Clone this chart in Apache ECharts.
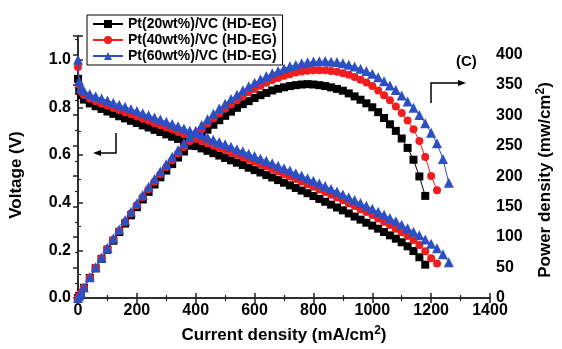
<!DOCTYPE html>
<html><head><meta charset="utf-8">
<script src="https://cdn.jsdelivr.net/npm/echarts@6/dist/echarts.min.js"></script>
<style>html,body{margin:0;padding:0;background:#fff}#c{width:562px;height:349px}</style>
</head><body><div id="c"></div><script>
// Current density (mA/cm2) sample points
const currents = [0,4,10,20,40,60,80,100,120,140,160,180,200,220,240,260,280,300,320,340,360,380,400,420,440,460,480,500,520,540,560,580,600,620,640,660,680,700,720,740,760,780,800,820,840,860,880,900,920,940,960,980,1000,1020,1040,1060,1080,1100,1120,1140,1160,1180,1200,1220,1240,1260];

const seriesNames = ['Pt(20wt%)/VC (HD-EG)','Pt(40wt%)/VC (HD-EG)','Pt(60wt%)/VC (HD-EG)'];

// Voltage (V)
const voltage20 = [0.92,0.87,0.852,0.833,0.817,0.805,0.794,0.783,0.773,0.763,0.754,0.744,0.735,0.725,0.716,0.706,0.697,0.687,0.677,0.668,0.658,0.648,0.638,0.628,0.618,0.608,0.598,0.588,0.578,0.568,0.558,0.547,0.537,0.527,0.516,0.506,0.495,0.484,0.473,0.462,0.451,0.440,0.428,0.416,0.404,0.392,0.380,0.368,0.355,0.342,0.329,0.316,0.304,0.291,0.277,0.263,0.249,0.234,0.217,0.197,0.171,0.140];
const voltage40 = [0.97,0.895,0.868,0.852,0.837,0.826,0.816,0.807,0.798,0.789,0.780,0.771,0.762,0.753,0.744,0.734,0.725,0.716,0.707,0.697,0.688,0.678,0.669,0.659,0.650,0.640,0.631,0.621,0.611,0.601,0.592,0.582,0.572,0.562,0.552,0.542,0.531,0.521,0.510,0.500,0.489,0.478,0.467,0.456,0.445,0.433,0.422,0.410,0.398,0.386,0.373,0.361,0.348,0.334,0.320,0.306,0.291,0.276,0.260,0.243,0.222,0.196,0.167,0.145];
const voltage60 = [1.0,0.91,0.882,0.870,0.857,0.847,0.838,0.829,0.820,0.811,0.803,0.794,0.785,0.776,0.767,0.758,0.749,0.740,0.731,0.721,0.712,0.702,0.693,0.683,0.674,0.664,0.655,0.645,0.635,0.625,0.616,0.606,0.596,0.586,0.576,0.566,0.555,0.545,0.535,0.524,0.514,0.503,0.492,0.481,0.470,0.458,0.447,0.435,0.423,0.411,0.399,0.387,0.375,0.362,0.349,0.336,0.322,0.308,0.293,0.278,0.263,0.246,0.228,0.209,0.184,0.150];

// Power density (mW/cm2)
const power20 = [0,3.5,8.5,16.8,32.9,48.7,64.2,79.2,94.0,108.2,122.2,135.7,149.0,161.7,174.2,186.2,198.0,209.1,219.8,230.5,240.5,250.0,259.2,268.0,276.3,284.3,291.8,299.0,305.8,312.1,318.1,323.1,328.2,332.9,336.6,340.6,343.4,345.8,347.8,349.3,350.4,351.0,350.4,349.3,347.8,345.7,343.2,340.2,335.8,330.9,325.4,319.5,313.0,305.0,295.4,285.1,274.3,261.8,246.4,226.9,199.5,167.6];
const power40 = [0,3.6,8.7,17.0,33.5,49.6,65.3,80.7,95.8,110.5,124.8,138.8,152.4,165.7,178.6,190.8,203.0,214.8,226.2,237.0,247.7,257.6,267.6,276.8,286.0,294.4,302.9,310.5,317.7,324.5,331.5,337.6,343.2,348.4,353.3,357.7,361.1,364.7,367.2,370.0,371.6,372.8,373.6,373.9,373.8,372.4,371.4,369.0,366.2,362.8,358.1,353.8,348.0,340.7,332.8,324.4,314.3,303.6,291.2,277.0,257.5,231.3,200.4,176.9];
const power60 = [0,3.6,8.8,17.3,34.0,50.4,66.5,82.2,97.6,112.6,127.4,141.7,155.6,169.2,182.4,195.3,207.8,219.9,231.7,242.8,253.8,264.1,274.4,283.9,293.5,302.2,311.0,319.0,326.6,333.7,341.0,347.4,353.4,359.0,364.2,368.9,372.6,376.6,380.2,382.6,385.3,386.9,388.0,388.7,388.9,387.9,387.2,385.2,382.7,379.8,376.3,372.4,368.0,362.1,355.7,348.7,341.3,332.2,322.6,312.4,300.4,286.7,271.2,253.8,228.2,189.0];

const xTicks = [0,200,400,600,800,1000,1200,1400];
const vTicks = [0.0,0.2,0.4,0.6,0.8,1.0];
const pTicks = [0,50,100,150,200,250,300,350,400];

const colors = ['#000000','#f01e1e','#2c4fc4'];
const symbols = ['rect','circle','triangle'];
const symSizes = [8,8,10];

const pair = (vals) => vals.map((v,i) => [currents[i], v]);
const vData = [voltage20, voltage40, voltage60];
const pData = [power20, power40, power60];

const FONT = 'Arial, "Liberation Sans", sans-serif';
const axisLineStyle = {color:'#222', width:1.5};
const labelStyle = {color:'#000', fontWeight:'bold', fontSize:16, fontFamily:FONT};
const titleStyle = {color:'#000', fontWeight:'bold', fontSize:17, fontFamily:FONT};
const supRich = {sup:{fontSize:12, fontWeight:'bold', fontFamily:FONT, color:'#000', verticalAlign:'top', padding:[0,0,9,0]}};

const series = [];
for (let k=0;k<3;k++){
  series.push({name:seriesNames[k], type:'line', xAxisIndex:0, yAxisIndex:0, data:pair(vData[k]),
    symbol:symbols[k], symbolSize:symSizes[k], showSymbol:true,
    itemStyle:{color:colors[k]}, lineStyle:{color:colors[k], width:1}, z:2+k});
  series.push({name:seriesNames[k], type:'line', xAxisIndex:0, yAxisIndex:1, data:pair(pData[k]),
    symbol:symbols[k], symbolSize:symSizes[k], showSymbol:true,
    itemStyle:{color:colors[k]}, lineStyle:{color:colors[k], width:1}, z:2+k});
}

const chart = echarts.init(document.getElementById('c'));
chart.setOption({
  animation:false,
  backgroundColor:'#fff',
  grid:{left:76, right:67, top:36, bottom:48},
  legend:{
    data:seriesNames,
    orient:'vertical', left:87, top:15, padding:[2,6,2,5], itemGap:2,
    itemWidth:30, itemHeight:10,
    backgroundColor:'#fff', borderColor:'#000', borderWidth:1, borderRadius:0,
    textStyle:{fontSize:14, fontWeight:'bold', fontFamily:FONT, color:'#000'},
    z:10
  },
  xAxis:[{
    type:'value', min:0, max:1400, interval:200,
    name:'Current density (mA/cm{sup|2})', nameLocation:'middle', nameGap:27,
    nameTextStyle:Object.assign({}, titleStyle, {rich:supRich}),
    axisLine:{lineStyle:axisLineStyle},
    axisTick:{inside:true, length:5, lineStyle:axisLineStyle},
    minorTick:{show:true, splitNumber:2, length:3, lineStyle:{color:'#222', width:1.2}},
    axisLabel:Object.assign({}, labelStyle, {margin:5, formatter:(v)=> xTicks.includes(v)? String(v):''}),
    splitLine:{show:false}
  },{
    type:'value', position:'top', min:0, max:1400, interval:200,
    axisLine:{lineStyle:axisLineStyle},
    axisTick:{inside:true, length:5, lineStyle:axisLineStyle},
    minorTick:{show:true, splitNumber:2, length:3, lineStyle:{color:'#222', width:1.2}},
    axisLabel:{show:false}, splitLine:{show:false}
  }],
  yAxis:[{
    type:'value', min:0, max:1.1, interval:0.2, position:'left',
    name:'Voltage (V)', nameLocation:'middle', nameGap:53, nameRotate:90,
    nameTextStyle:Object.assign({}, titleStyle, {padding:[0,16,0,0]}),
    axisLine:{lineStyle:axisLineStyle},
    axisTick:{inside:true, length:5, lineStyle:axisLineStyle},
    minorTick:{show:true, splitNumber:2, length:3, lineStyle:{color:'#222', width:1.2}},
    axisLabel:Object.assign({}, labelStyle, {margin:7, showMaxLabel:false,
      formatter:(v)=>{const t=vTicks.find(x=>Math.abs(x-v)<1e-6); return t===undefined?'':t.toFixed(1);}}),
    splitLine:{show:false}
  },{
    type:'value', min:0, max:430, interval:50, position:'right',
    name:'Power density (mw/cm{sup|2})', nameLocation:'middle', nameGap:45, nameRotate:90,
    nameTextStyle:Object.assign({}, titleStyle, {rich:supRich, padding:[0,26,0,0]}),
    axisLine:{lineStyle:axisLineStyle},
    axisTick:{inside:true, length:5, lineStyle:axisLineStyle},
    minorTick:{show:true, splitNumber:2, length:3, lineStyle:{color:'#222', width:1.2}},
    axisLabel:Object.assign({}, labelStyle, {margin:6, showMaxLabel:false,
      formatter:(v)=> pTicks.includes(v)? String(v):''}),
    splitLine:{show:false}
  }],
  graphic:[
    {type:'text', left:456, top:54, z:20, style:{text:'(C)', fontSize:15, fontWeight:'bold', fontFamily:FONT, fill:'#000'}},
    {type:'polyline', z:20, shape:{points:[[431,103],[431,83],[460,83]]}, style:{stroke:'#000', lineWidth:1.5, fill:null}},
    {type:'polygon', z:20, shape:{points:[[466,83],[458,80],[458,86]]}, style:{fill:'#000'}},
    {type:'polyline', z:20, shape:{points:[[116,133],[116,153],[99,153]]}, style:{stroke:'#000', lineWidth:1.5, fill:null}},
    {type:'polygon', z:20, shape:{points:[[93,153],[101,150],[101,156]]}, style:{fill:'#000'}}
  ],
  series:series
});
</script></body></html>
